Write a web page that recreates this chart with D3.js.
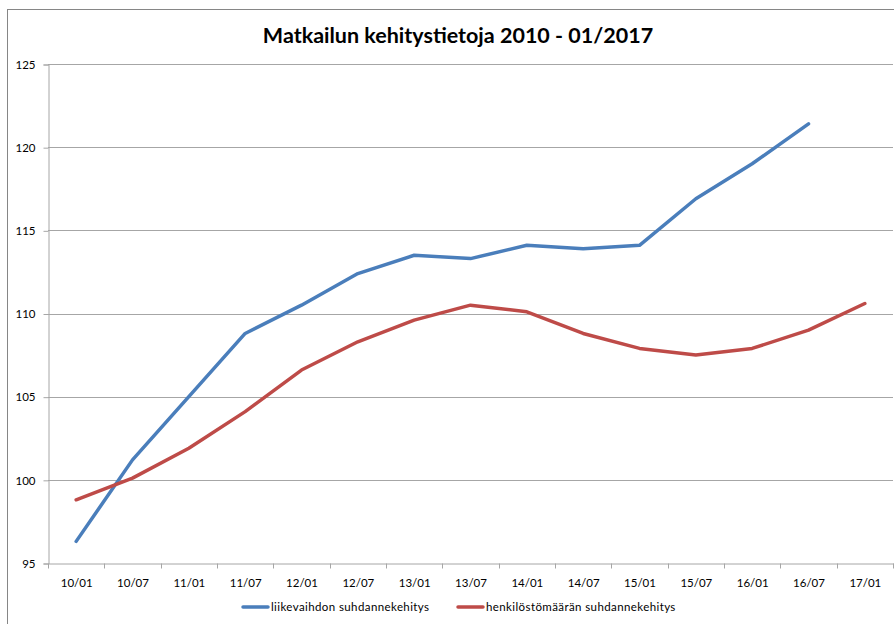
<!DOCTYPE html>
<html>
<head>
<meta charset="utf-8">
<script src="https://cdn.jsdelivr.net/npm/d3@7"></script>
<style>
  body { margin: 0; background: #fff; }
  svg text { font-family: Lato, "Open Sans", sans-serif; fill: #000; }
</style>
</head>
<body>
<div id="root"></div>
<script>
const categories = ["10/01","10/07","11/01","11/07","12/01","12/07","13/01","13/07","14/01","14/07","15/01","15/07","16/01","16/07","17/01"]
const liikevaihto = [96.3,101.2,105.0,108.8,110.5,112.4,113.5,113.3,114.1,113.9,114.1,116.9,119.0,121.4,null]
const henkilosto = [98.8,100.1,101.9,104.1,106.6,108.3,109.6,110.5,110.1,108.8,107.9,107.5,107.9,109.0,110.6]
const yTicks = [95,100,105,110,115,120,125]
const seriesNames = ["liikevaihdon suhdannekehitys","henkilöstömäärän suhdannekehitys"]
const colors = ["#4a7ebb","#be4b48"]

const width = 894, height = 624
const margin = {top: 64, left: 48, right: 1, bottom: 61}

const svg = d3.select('#root').append('svg')
  .attr('width', width)
  .attr('height', height)

// chart frame
svg.append('rect')
  .attr('x', 7.5).attr('y', 9.5)
  .attr('width', width).attr('height', height)
  .attr('fill', 'none')
  .attr('stroke', '#868686')

svg.append('text')
  .attr('x', 458).attr('y', 43)
  .attr('text-anchor', 'middle')
  .style('font-size', '21.5px')
  .style('font-weight', 'bold')
  .text('Matkailun kehitystietoja 2010 - 01/2017')

const x = d3.scaleBand()
  .domain(categories)
  .range([margin.left, width - margin.right])

const y = d3.scaleLinear()
  .domain([95, 125])
  .range([height - margin.bottom, margin.top])

// gridlines
svg.append('g')
  .selectAll('line')
  .data(yTicks.slice(1))
  .enter()
  .append('line')
  .attr('x1', margin.left).attr('x2', width - margin.right)
  .attr('y1', d => Math.round(y(d)) + 0.5).attr('y2', d => Math.round(y(d)) + 0.5)
  .attr('stroke', '#a6a6a6')

// y axis
const yAxis = svg.append('g')
  .attr('transform', `translate(${margin.left + 0.5},0.5)`)
  .call(d3.axisLeft(y).tickValues(yTicks).tickSize(5).tickPadding(8))
yAxis.select('.domain').attr('stroke', '#a6a6a6')
yAxis.selectAll('.tick line').attr('stroke', '#a6a6a6')
yAxis.selectAll('text').style('font-size', '11.5px').attr('fill', '#000')

// x axis
const xAxis = svg.append('g')
  .attr('transform', `translate(0.5,${Math.round(y(95)) + 0.5})`)
  .call(d3.axisBottom(x).tickSize(0).tickPadding(15))
xAxis.select('.domain').attr('stroke', '#a6a6a6')
xAxis.selectAll('text').style('font-size', '11.5px').attr('fill', '#000')
xAxis.selectAll('.sep')
  .data(categories.concat(['end']))
  .enter()
  .append('line')
  .attr('x1', (d, i) => Math.round(margin.left + i * x.step()))
  .attr('x2', (d, i) => Math.round(margin.left + i * x.step()))
  .attr('y1', 0).attr('y2', 5)
  .attr('stroke', '#a6a6a6')

const line = d3.line()
  .defined(d => d.v !== null)
  .x(d => x(d.c) + x.bandwidth() / 2)
  .y(d => y(d.v))

;[liikevaihto, henkilosto].forEach((vals, i) => {
  svg.append('path')
    .datum(categories.map((c, j) => ({c: c, v: vals[j]})))
    .attr('d', line)
    .attr('fill', 'none')
    .attr('stroke', colors[i])
    .attr('stroke-width', 3.5)
    .attr('stroke-linejoin', 'round')
    .attr('stroke-linecap', 'round')
})

// legend
const legendX = [243, 458]
seriesNames.forEach((name, i) => {
  const g = svg.append('g').attr('transform', `translate(${legendX[i]},607)`)
  g.append('line')
    .attr('x1', 0).attr('x2', 25)
    .attr('y1', 0).attr('y2', 0)
    .attr('stroke', colors[i])
    .attr('stroke-width', 3.5)
    .attr('stroke-linecap', 'round')
  g.append('text')
    .attr('x', 28).attr('y', 4)
    .style('font-size', '11.5px')
    .style('letter-spacing', '0.4px')
    .text(name)
})
</script>
</body>
</html>
